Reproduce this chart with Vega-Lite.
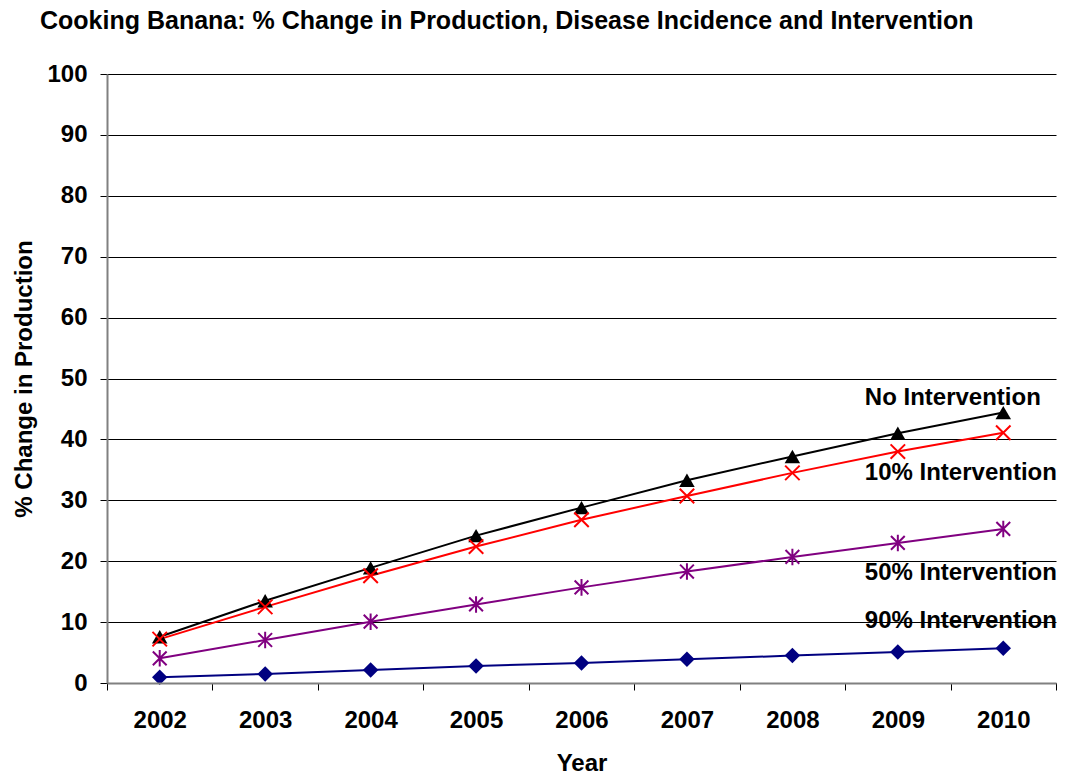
{
  "$schema": "https://vega.github.io/schema/vega-lite/v6.json",
  "width": 949,
  "height": 609,
  "autosize": {"type": "none"},
  "padding": {"left": 107, "top": 74, "right": 9, "bottom": 91},
  "background": "white",
  "config": {
    "font": "Liberation Sans",
    "view": {"stroke": null},
    "axis": {"labelFont": "Liberation Sans", "titleFont": "Liberation Sans"}
  },
  "title": {
    "text": "Cooking Banana: % Change in Production, Disease Incidence and Intervention",
    "anchor": "start",
    "frame": "group",
    "dx": -67,
    "offset": 8,
    "baseline": "alphabetic",
    "fontSize": 25,
    "fontWeight": "bold",
    "color": "black",
    "font": "Liberation Sans"
  },
  "datasets": {
    "series": [
      {"year": "2002", "series": "No Intervention", "value": 7.6},
      {"year": "2003", "series": "No Intervention", "value": 13.5},
      {"year": "2004", "series": "No Intervention", "value": 18.9},
      {"year": "2005", "series": "No Intervention", "value": 24.2},
      {"year": "2006", "series": "No Intervention", "value": 28.8},
      {"year": "2007", "series": "No Intervention", "value": 33.3},
      {"year": "2008", "series": "No Intervention", "value": 37.2},
      {"year": "2009", "series": "No Intervention", "value": 41.0},
      {"year": "2010", "series": "No Intervention", "value": 44.4},
      {"year": "2002", "series": "10% Intervention", "value": 7.2},
      {"year": "2003", "series": "10% Intervention", "value": 12.5},
      {"year": "2004", "series": "10% Intervention", "value": 17.6},
      {"year": "2005", "series": "10% Intervention", "value": 22.4},
      {"year": "2006", "series": "10% Intervention", "value": 26.8},
      {"year": "2007", "series": "10% Intervention", "value": 30.7},
      {"year": "2008", "series": "10% Intervention", "value": 34.5},
      {"year": "2009", "series": "10% Intervention", "value": 38.0},
      {"year": "2010", "series": "10% Intervention", "value": 41.1},
      {"year": "2002", "series": "50% Intervention", "value": 4.05},
      {"year": "2003", "series": "50% Intervention", "value": 7.06},
      {"year": "2004", "series": "50% Intervention", "value": 10.07},
      {"year": "2005", "series": "50% Intervention", "value": 12.9},
      {"year": "2006", "series": "50% Intervention", "value": 15.7},
      {"year": "2007", "series": "50% Intervention", "value": 18.3},
      {"year": "2008", "series": "50% Intervention", "value": 20.7},
      {"year": "2009", "series": "50% Intervention", "value": 23.0},
      {"year": "2010", "series": "50% Intervention", "value": 25.3},
      {"year": "2002", "series": "90% Intervention", "value": 0.93},
      {"year": "2003", "series": "90% Intervention", "value": 1.48},
      {"year": "2004", "series": "90% Intervention", "value": 2.13},
      {"year": "2005", "series": "90% Intervention", "value": 2.79},
      {"year": "2006", "series": "90% Intervention", "value": 3.3},
      {"year": "2007", "series": "90% Intervention", "value": 3.9},
      {"year": "2008", "series": "90% Intervention", "value": 4.5},
      {"year": "2009", "series": "90% Intervention", "value": 5.1},
      {"year": "2010", "series": "90% Intervention", "value": 5.7}
    ],
    "labels": [
      {"label": "No Intervention", "year": "2009", "value": 46.8},
      {"label": "10% Intervention", "year": "2009", "value": 34.5},
      {"label": "50% Intervention", "year": "2009", "value": 18.0},
      {"label": "90% Intervention", "year": "2009", "value": 10.2}
    ]
  },
  "encoding": {
    "x": {
      "field": "year",
      "type": "ordinal",
      "scale": {"paddingInner": 0, "paddingOuter": 0, "domain": ["2002","2003","2004","2005","2006","2007","2008","2009","2010"]},
      "axis": {
        "title": "Year",
        "labelAngle": 0,
        "tickBand": "extent",
        "grid": false,
        "domainColor": "#808080",
        "domainWidth": 2,
        "tickColor": "black",
        "tickSize": 7,
        "tickWidth": 1,
        "labelFontSize": 24,
        "labelFontWeight": "bold",
        "labelColor": "black",
        "labelPadding": 18,
        "titleFontSize": 24,
        "titleFontWeight": "bold",
        "titleColor": "black",
        "titlePadding": 19,
        "zindex": 1
      }
    },
    "y": {
      "field": "value",
      "type": "quantitative",
      "scale": {"domain": [0, 100], "nice": false},
      "axis": {
        "title": "% Change in Production",
        "values": [0,10,20,30,40,50,60,70,80,90,100],
        "grid": true,
        "gridColor": "black",
        "gridWidth": 1,
        "gridOpacity": 1,
        "domainColor": "#808080",
        "domainWidth": 2,
        "tickColor": "black",
        "tickSize": 7,
        "labelFontSize": 24,
        "labelFontWeight": "bold",
        "labelColor": "black",
        "labelPadding": 13,
        "titleFontSize": 24,
        "titleFontWeight": "bold",
        "titleColor": "black",
        "titlePadding": 10
      }
    }
  },
  "layer": [
    {
      "data": {"name": "series"},
      "mark": {"type": "line", "strokeWidth": 2},
      "encoding": {
        "color": {
          "field": "series",
          "type": "nominal",
          "scale": {
            "domain": ["No Intervention", "10% Intervention", "50% Intervention", "90% Intervention"],
            "range": ["black", "#FF0000", "#800080", "#000080"]
          },
          "legend": null
        },
        "order": {"field": "series"}
      }
    },
    {
      "data": {"name": "series"},
      "transform": [{"filter": "datum.series === 'No Intervention'"}],
      "mark": {"type": "point", "shape": "triangle-up", "filled": true, "size": 240, "color": "black", "opacity": 1}
    },
    {
      "data": {"name": "series"},
      "transform": [{"filter": "datum.series === '10% Intervention'"}],
      "mark": {"type": "point", "shape": "M-1,-1L1,1M-1,1L1,-1", "filled": false, "size": 210, "color": "#FF0000", "strokeWidth": 2, "opacity": 1}
    },
    {
      "data": {"name": "series"},
      "transform": [{"filter": "datum.series === '50% Intervention'"}],
      "mark": {"type": "point", "shape": "M-1,-1L1,1M-1,1L1,-1M0,-1.2L0,1.2", "filled": false, "size": 190, "color": "#800080", "strokeWidth": 2, "opacity": 1}
    },
    {
      "data": {"name": "series"},
      "transform": [{"filter": "datum.series === '90% Intervention'"}],
      "mark": {"type": "point", "shape": "diamond", "filled": true, "size": 240, "color": "#000080", "opacity": 1}
    },
    {
      "data": {"name": "labels"},
      "mark": {"type": "text", "align": "left", "baseline": "middle", "dx": -33, "fontSize": 24, "fontWeight": "bold", "color": "black", "font": "Liberation Sans"},
      "encoding": {"text": {"field": "label", "type": "nominal"}}
    }
  ]
}
